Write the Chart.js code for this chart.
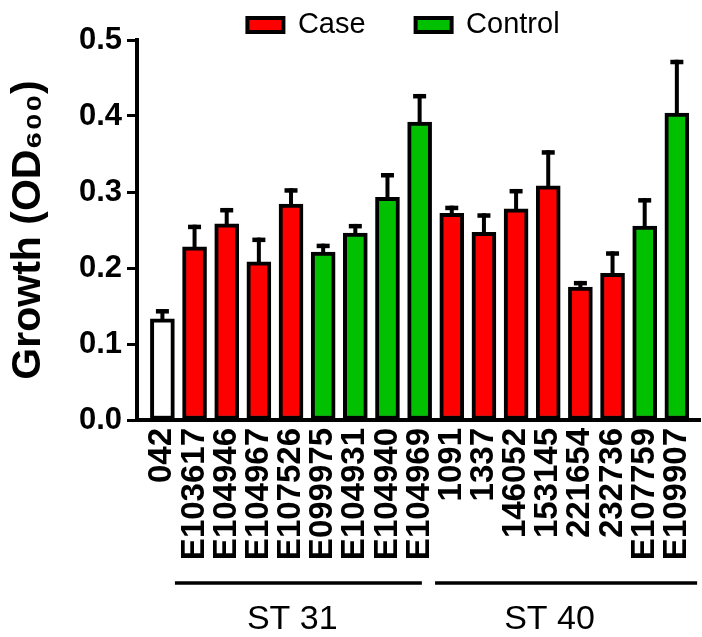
<!DOCTYPE html>
<html>
<head>
<meta charset="utf-8">
<script src="https://cdn.jsdelivr.net/npm/chart.js@4.4.1/dist/chart.umd.min.js"></script>
<style>
html,body{margin:0;padding:0;background:#fff}
#wrap{width:702px;height:637px;position:relative}
</style>
</head>
<body>
<div id="wrap"><canvas id="c"></canvas></div>
<script>
// ---- data ----
const strains = ['042','E103617','E104946','E104967','E107526','E099975','E104931','E104940','E104969',
                 '1091','1337','146052','153145','221654','232736','E107759','E109907'];
const growth  = [0.133,0.228,0.258,0.208,0.284,0.221,0.246,0.293,0.392,
                 0.272,0.247,0.278,0.308,0.175,0.193,0.255,0.404];
const sem     = [0.013,0.029,0.021,0.032,0.021,0.011,0.012,0.032,0.037,
                 0.010,0.025,0.026,0.047,0.008,0.029,0.037,0.070];
const strainType = ['Reference','Case','Case','Case','Case','Control','Control','Control','Control',
                    'Case','Case','Case','Case','Case','Case','Control','Control'];
const legendNames = ['Case','Control'];
const groupNames = ['ST 31','ST 40'];
const groupFirst = [1, 9];
const groupLast  = [8, 16];
const yTickLabels = ['0.0','0.1','0.2','0.3','0.4','0.5'];
const yTitle = 'Growth (OD\u2086\u2080\u2080)';

// ---- styles ----
const typeColors = { Reference: '#ffffff', Case: '#ff0000', Control: '#00c000' };
const FONT = '"Liberation Sans", Arial, Helvetica, sans-serif';
Chart.defaults.font.family = FONT;
Chart.defaults.color = '#000';

const errorBars = {
  id: 'errorBars',
  afterDatasetsDraw(chart) {
    const { ctx, scales: { x, y } } = chart;
    ctx.save();
    ctx.fillStyle = '#000';
    growth.forEach((v, i) => {
      const px = x.getPixelForValue(i);
      const yTop = y.getPixelForValue(v + sem[i]);
      const yBar = y.getPixelForValue(v);
      ctx.fillRect(px - 2, yTop, 4, yBar - yTop + 2);
      ctx.fillRect(px - 6.5, yTop, 13, 4.5);
    });
    ctx.restore();
  }
};

const groupBrackets = {
  id: 'groupBrackets',
  afterDraw(chart) {
    const { ctx, scales: { x } } = chart;
    const ext = [[-0.61, 0.07], [-0.52, 0.63]];
    const base = x.bottom;
    ctx.save();
    ctx.strokeStyle = '#000';
    ctx.lineWidth = 3.5;
    ctx.fillStyle = '#000';
    ctx.font = '34px ' + FONT;
    ctx.textAlign = 'center';
    ctx.textBaseline = 'alphabetic';
    groupNames.forEach((name, g) => {
      const x1 = x.getPixelForValue(groupFirst[g] + ext[g][0]);
      const x2 = x.getPixelForValue(groupLast[g] + ext[g][1]);
      ctx.beginPath();
      ctx.moveTo(x1, base + 23);
      ctx.lineTo(x2, base + 23);
      ctx.stroke();
      const cx = x.getPixelForValue((groupFirst[g] + groupLast[g]) / 2 - 0.46);
      ctx.fillText(name, cx, base + 69);
    });
    ctx.restore();
  }
};

const legendShift = {
  id: 'legendShift',
  afterLayout(chart) {
    if (chart.legend) { chart.legend.left = 107; }
  }
};

new Chart(document.getElementById('c'), {
  type: 'bar',
  data: {
    datasets: [{
      label: 'Growth',
      data: growth.map((v, i) => ({ x: i, y: v })),
      backgroundColor: strainType.map(t => typeColors[t]),
      borderColor: '#000',
      borderWidth: 4,
      borderSkipped: false,
      barThickness: 24
    }]
  },
  options: {
    responsive: true,
    maintainAspectRatio: false,
    animation: false,
    layout: { padding: { top: -39.5, left: 0, right: 2, bottom: 77 } },
    plugins: {
      tooltip: { enabled: false },
      legend: {
        position: 'top',
        align: 'center',
        maxHeight: 79.5,
        onClick: null,
        labels: {
          font: { size: 29 },
          boxWidth: 36,
          boxHeight: 14,
          padding: 50,
          generateLabels: () => legendNames.map(n => ({
            text: n, fillStyle: typeColors[n], strokeStyle: '#000',
            lineWidth: 4, hidden: false, fontColor: '#000'
          }))
        }
      }
    },
    scales: {
      x: {
        type: 'linear',
        offset: false,
        min: -0.79,
        max: 16.72,
        grid: { display: false, offset: false },
        border: { display: true, color: '#000', width: 4 },
        afterFit: (s) => { s.height = 140; s.paddingLeft = 0; s.paddingRight = 0; },
        ticks: {
          stepSize: 1,
          includeBounds: false,
          autoSkip: false,
          maxRotation: 90,
          minRotation: 90,
          padding: 0,
          font: { size: 33, weight: 'bold' },
          color: '#000',
          callback: (v) => (Number.isInteger(v) && strains[v] !== undefined) ? strains[v] : ''
        }
      },
      y: {
        min: 0,
        max: 0.5,
        afterFit: (s) => { s.width = 137; },
        grid: { display: true, drawOnChartArea: false, drawTicks: true, tickLength: 10, tickWidth: 3, tickColor: '#000' },
        border: { display: true, color: '#000', width: 4 },
        ticks: {
          stepSize: 0.05,
          padding: 5,
          font: { size: 31, weight: 'bold' },
          color: '#000',
          callback: (v) => { const k = Math.round(v * 20); return k % 2 === 0 ? yTickLabels[k / 2] : ''; }
        },
        title: {
          display: true,
          text: yTitle,
          font: { size: 41, weight: 'bold' },
          color: '#000',
          padding: { top: 4, bottom: 20 }
        }
      }
    }
  },
  plugins: [errorBars, groupBrackets, legendShift]
});
</script>
</body>
</html>
